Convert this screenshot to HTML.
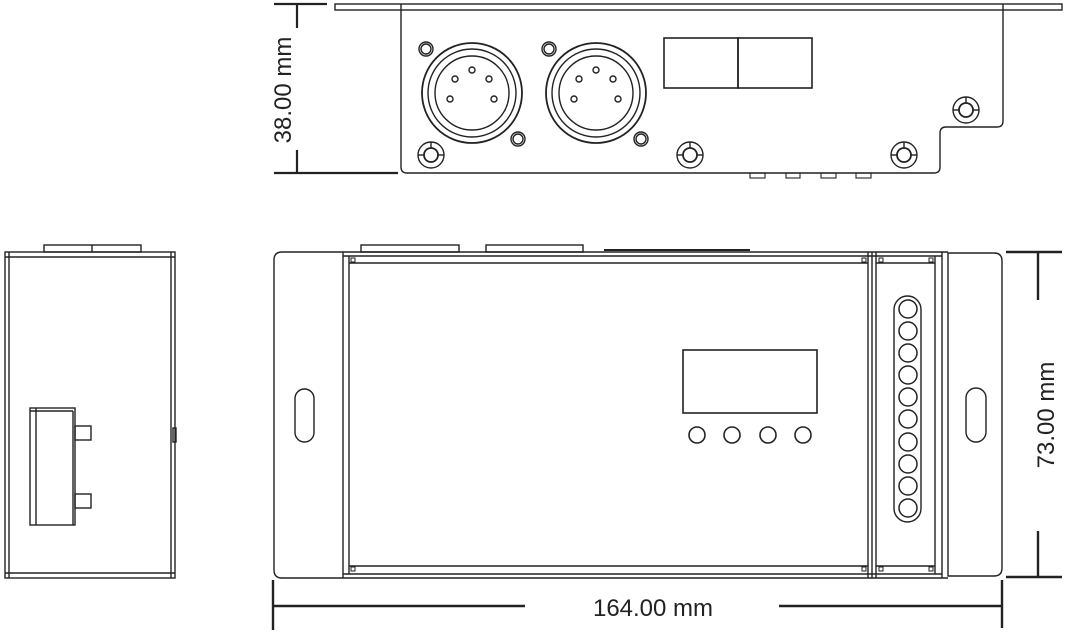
<!DOCTYPE html>
<html><head><meta charset="utf-8"><style>body{margin:0;background:#fff}svg{display:block}</style></head><body>
<svg width="1068" height="635" viewBox="0 0 1068 635" xmlns="http://www.w3.org/2000/svg" font-family="Liberation Sans, sans-serif">
<g fill="none" stroke="#222" stroke-width="1.4">
<!-- TOP VIEW -->
<rect x="335" y="4" width="727" height="6"/>
<line x1="401" y1="4" x2="401" y2="10"/><line x1="1003" y1="4" x2="1003" y2="10"/>
<path d="M401 10 V167 Q401 173 407 173 H934 Q940 173 940 167 V133 Q940 127 946 127 H997 Q1003 127 1003 121 V10"/>
<g stroke-width="1.1"><rect x="750" y="173" width="15" height="5"/><rect x="786" y="173" width="14" height="5"/><rect x="821" y="173" width="15" height="5"/><rect x="856" y="173" width="15" height="5"/></g>
<rect x="664" y="38" width="74" height="50" stroke-width="1.6"/><rect x="738" y="38" width="74" height="50" stroke-width="1.6"/>
<g id="xlr"><circle cx="472" cy="93" r="50" stroke-width="1.8"/><circle cx="472" cy="93" r="44"/><circle cx="472" cy="93" r="37"/>
<circle cx="472" cy="70" r="3"/><circle cx="455" cy="79" r="3"/><circle cx="489" cy="79" r="3"/><circle cx="450" cy="99" r="3"/><circle cx="494" cy="99" r="3"/></g>
<use href="#xlr" x="124"/>
<g><circle cx="426" cy="49" r="7"/><circle cx="426" cy="49" r="5"/><circle cx="518" cy="139" r="7"/><circle cx="518" cy="139" r="5"/>
<circle cx="549" cy="49" r="7"/><circle cx="549" cy="49" r="5"/><circle cx="641" cy="139" r="7"/><circle cx="641" cy="139" r="5"/></g>
<g id="scr"><circle cx="431" cy="155" r="13"/><circle cx="431" cy="155" r="7" stroke-width="1.8"/><line x1="431" y1="142" x2="431" y2="148"/><line x1="418" y1="155" x2="424" y2="155"/><line x1="438" y1="155" x2="444" y2="155"/></g>
<use href="#scr" x="259"/><use href="#scr" x="473"/><use href="#scr" x="535" y="-45"/>
<!-- dim 38 -->
<g stroke-width="2.2"><line x1="274" y1="4" x2="327" y2="4"/><line x1="274" y1="173" x2="398" y2="173"/><line x1="297" y1="4" x2="297" y2="28"/><line x1="297" y1="150" x2="297" y2="173"/></g>

<!-- SIDE VIEW -->
<rect x="5" y="252" width="170" height="326"/>
<line x1="9" y1="252" x2="9" y2="578"/><line x1="171" y1="252" x2="171" y2="578"/>
<line x1="5" y1="257" x2="175" y2="257"/><line x1="5" y1="573" x2="175" y2="573"/>
<rect x="44" y="245" width="97" height="7"/><line x1="92" y1="245" x2="92" y2="252"/>
<rect x="30" y="408" width="45" height="117"/><line x1="36" y1="408" x2="36" y2="525"/><line x1="30" y1="411" x2="73" y2="411"/><line x1="73" y1="411" x2="73" y2="525"/>
<rect x="75" y="426" width="16" height="14"/><rect x="75" y="494" width="16" height="14"/>
<rect x="173" y="428" width="3" height="14"/>

<!-- FRONT VIEW -->
<path d="M343 252 H282 Q274 252 274 260 V570 Q274 578 282 578 H343"/>
<rect x="295" y="389" width="19" height="53" rx="9.5"/>
<path d="M948 253 H994 Q1002 253 1002 261 V568 Q1002 576 994 576 H948 Z"/>
<rect x="966" y="388" width="20" height="54" rx="10"/>
<line x1="343" y1="252" x2="948" y2="252"/><line x1="343" y1="578" x2="948" y2="578"/>
<line x1="343" y1="256" x2="942" y2="256"/><line x1="343" y1="574" x2="942" y2="574"/>
<line x1="349" y1="263" x2="868" y2="263"/><line x1="349" y1="566" x2="868" y2="566"/>
<line x1="876" y1="263" x2="935" y2="263"/><line x1="876" y1="566" x2="935" y2="566"/>
<line x1="343" y1="252" x2="343" y2="578"/><line x1="349" y1="256" x2="349" y2="574"/>
<line x1="868" y1="252" x2="868" y2="578"/><line x1="872" y1="252" x2="872" y2="578"/><line x1="876" y1="252" x2="876" y2="578"/>
<line x1="935" y1="256" x2="935" y2="574"/><line x1="942" y1="252" x2="942" y2="578"/>
<g stroke-width="1"><rect x="351" y="258" width="4" height="4"/><rect x="862" y="258" width="4" height="4"/><rect x="879" y="258" width="4" height="4"/><rect x="929" y="258" width="4" height="4"/>
<rect x="351" y="567" width="4" height="4"/><rect x="862" y="567" width="4" height="4"/><rect x="879" y="567" width="4" height="4"/><rect x="929" y="567" width="4" height="4"/></g>
<rect x="361" y="245" width="98" height="7"/><rect x="486" y="245" width="97" height="7"/><line x1="604" y1="250" x2="750" y2="250" stroke-width="2"/>
<rect x="683" y="350" width="134" height="63" stroke-width="1.6"/>
<circle cx="697" cy="435" r="8" stroke-width="1.6"/><circle cx="732" cy="435" r="8" stroke-width="1.6"/><circle cx="768" cy="435" r="8" stroke-width="1.6"/><circle cx="803" cy="435" r="8" stroke-width="1.6"/>
<rect x="894" y="296" width="27" height="226" rx="13.5"/>
<g stroke-width="1.5"><circle cx="908" cy="309" r="9"/><circle cx="908" cy="331" r="9"/><circle cx="908" cy="353" r="9"/><circle cx="908" cy="375" r="9"/><circle cx="908" cy="397" r="9"/><circle cx="908" cy="419" r="9"/><circle cx="908" cy="442" r="9"/><circle cx="908" cy="464" r="9"/><circle cx="908" cy="486" r="9"/><circle cx="908" cy="508" r="9"/></g>
<!-- dims -->
<g stroke-width="2.4"><line x1="1006" y1="252" x2="1062" y2="252"/><line x1="1006" y1="577" x2="1062" y2="577"/><line x1="1038" y1="252" x2="1038" y2="300"/><line x1="1038" y1="531" x2="1038" y2="577"/>
<line x1="273" y1="580" x2="273" y2="630"/><line x1="1002" y1="580" x2="1002" y2="628"/><line x1="273" y1="606" x2="525" y2="606"/><line x1="779" y1="606" x2="1002" y2="606"/></g>
</g>
<g fill="#222" font-size="24">
<text x="653" y="616" text-anchor="middle">164.00 mm</text>
<text transform="translate(1054,415) rotate(-90)" text-anchor="middle">73.00 mm</text>
<text transform="translate(291,90) rotate(-90)" text-anchor="middle">38.00 mm</text>
</g>
</svg>
</body></html>
